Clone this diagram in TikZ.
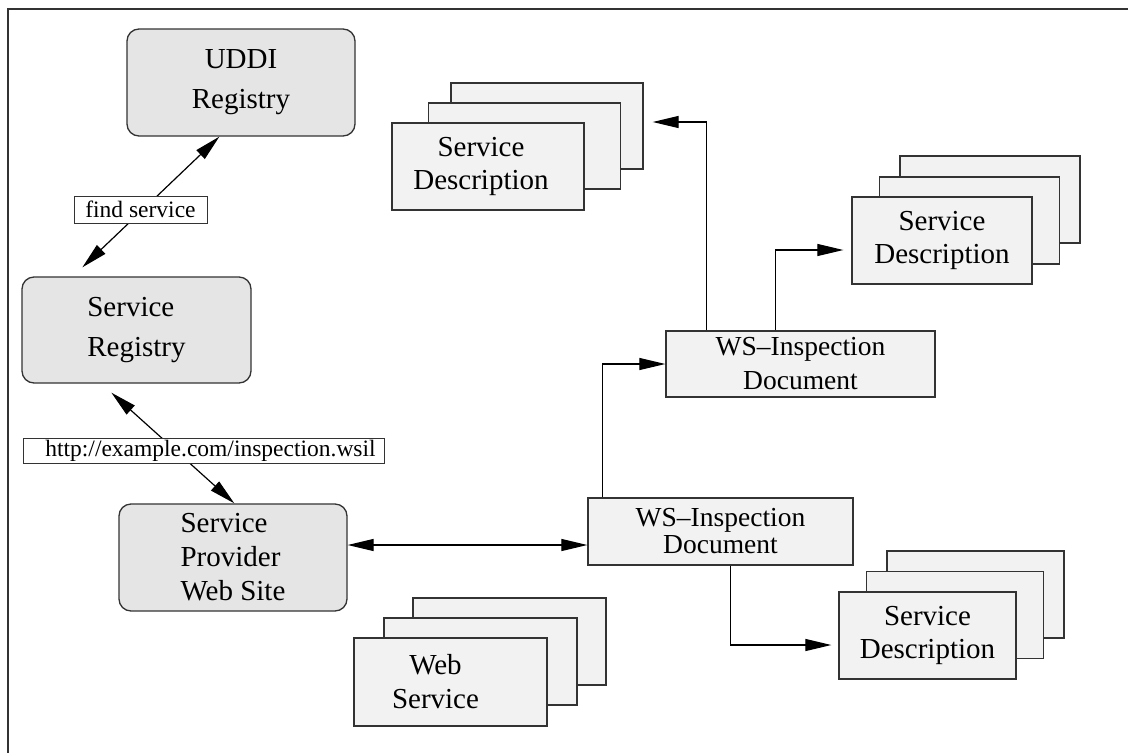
\documentclass[tikz,border=0pt]{standalone}
\usepackage{fontspec}
\setmainfont{Liberation Serif}
\usetikzlibrary{arrows.meta,calc}

\definecolor{regfill}{gray}{0.9}
\definecolor{docfill}{gray}{0.95}
\definecolor{edge}{gray}{0.2}

\begin{document}
\begin{tikzpicture}[x=1pt,y=-1pt,
  reg/.style={draw=edge, fill=regfill, line width=1.3pt, rounded corners=12pt,
    inner sep=0pt, align=center, font=\fontsize{29}{40}\selectfont},
  sheet/.style={draw=edge, fill=docfill, line width=1.3pt, inner sep=0pt,
    align=center, font=\fontsize{29}{33}\selectfont},
  words/.style={inner sep=0pt, align=center, font=\fontsize{29}{33}\selectfont},
  tag/.style={draw=edge, fill=white, line width=0.9pt, inner sep=0pt,
    font=\fontsize{23.5}{28}\selectfont},
  link/.style={line width=1.2pt, draw=black},
  tip/.style={-{Triangle[length=26pt,width=12pt]}},
  tips/.style={{Triangle[length=26pt,width=12pt]}-{Triangle[length=26pt,width=12pt]}},
]
\useasboundingbox (0,0) rectangle (1128,753);

% page frame (top and left rules)
\draw[edge, line width=2pt] (1128,9) -- (8,9) -- (8,753);

% registries and the provider site
\node[reg, minimum width=228pt, minimum height=107pt] (uddi) at (241,82.5) {UDDI\\Registry};
\node[reg, minimum width=229pt, minimum height=106pt, align=left] (sr) at (136.5,330) {Service\\Registry};
\node[reg, minimum width=228pt, minimum height=107pt, align=left,
      font=\fontsize{29}{34}\selectfont] (spw) at (233,557.5) {Service\\Provider\\Web Site};

% inspection documents
\node[sheet, minimum width=265pt, minimum height=67pt,
      font=\fontsize{27.5}{27}\selectfont] (wsiL) at (720.5,531.5) {WS--Inspection\\Document};
\node[sheet, minimum width=269pt, minimum height=66pt,
      font=\fontsize{27.5}{34}\selectfont] (wsiU) at (800.5,364) {WS--Inspection\\Document};

% service description stack (top)
\node[sheet, minimum width=192pt, minimum height=86pt] (sdA3) at (547,126) {};
\node[sheet, minimum width=192pt, minimum height=86pt] (sdA2) at (524.5,146) {};
\node[sheet, minimum width=192pt, minimum height=87pt] (sdA1) at (488,166.5) {};
\node[words] (sdAt) at (481,166.5) {Service\\Description};

% service description stack (right)
\node[sheet, minimum width=180pt, minimum height=87pt] (sdB3) at (990,199.5) {};
\node[sheet, minimum width=180pt, minimum height=87pt] (sdB2) at (969.5,220.5) {};
\node[sheet, minimum width=180pt, minimum height=87pt] (sdB1) at (942,240.5) {Service\\Description};

% service description stack (bottom right)
\node[sheet, minimum width=177pt, minimum height=87pt] (sdC3) at (975.5,594.5) {};
\node[sheet, minimum width=177pt, minimum height=87pt] (sdC2) at (955,615) {};
\node[sheet, minimum width=177pt, minimum height=87pt] (sdC1) at (927.5,635.5) {Service\\Description};

% web service stack
\node[sheet, minimum width=193pt, minimum height=87pt] (ws3) at (509.5,641.5) {};
\node[sheet, minimum width=193pt, minimum height=87pt] (ws2) at (480.5,661.5) {};
\node[sheet, minimum width=193pt, minimum height=88pt] (ws1) at (450.5,682) {};
\node[words, font=\fontsize{29}{34}\selectfont] (wst) at (435.5,682) {Web\\Service};

% connectors
\draw[link, tips] ([shift={(61,-9)}]sr.north west) -- ([xshift=93]uddi.south west);
\draw[link, tips] ([shift={(90,9)}]sr.south west) -- ([xshift=116]spw.north west);
\draw[link, tips] (spw.east |- 0,545) -- (wsiL.west |- 0,545);
\draw[link, tip] ([xshift=15]wsiL.north west) |- (wsiU.west);
\draw[link, tip] ([xshift=41]wsiU.north west) |- ([shift={(9,-4)}]sdA3.east);
\draw[link, tip] ([xshift=110]wsiU.north west) |- ([shift={(-8,9.5)}]sdB1.west);
\draw[link, tip] ([xshift=143]wsiL.south west) |- ([shift={(-7,9.5)}]sdC1.west);

% connector labels
\node[tag, minimum width=133pt, minimum height=27pt] (find) at (140.5,209.5) {find service};
\node[tag, minimum width=361pt, minimum height=25pt] (url) at (203.5,450.5) {\hspace*{14pt}http://example.com/inspection.wsil};
\end{tikzpicture}
\end{document}
